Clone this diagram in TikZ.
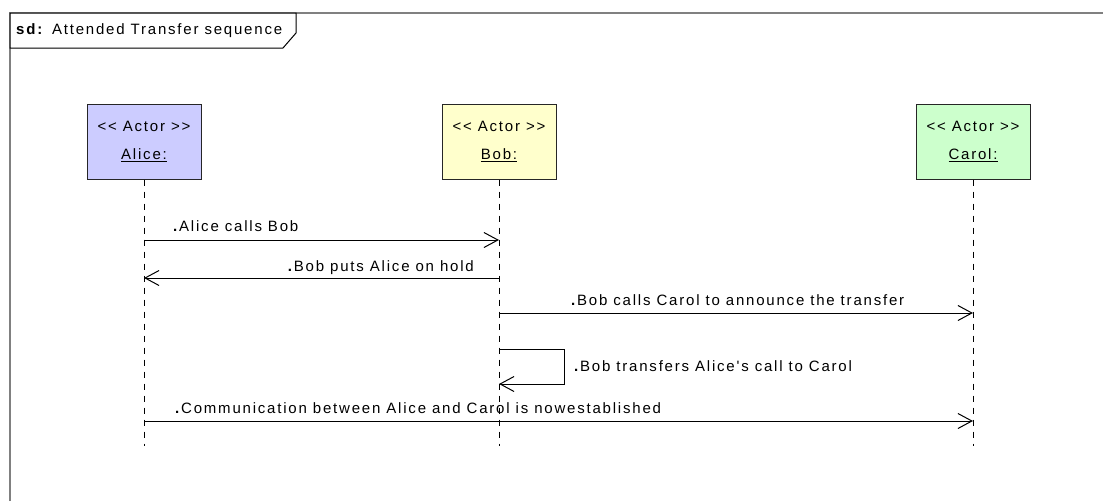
\documentclass[tikz,border=0pt]{standalone}
\usepackage{fontspec}
\setmainfont{Liberation Sans}[LetterSpace=12]
\newfontfamily\diagfont{Liberation Sans}[LetterSpace=12]
\usetikzlibrary{arrows.meta}
\definecolor{alicefill}{RGB}{204,204,255}
\definecolor{bobfill}{RGB}{255,255,204}
\definecolor{carolfill}{RGB}{204,255,204}
\begin{document}
\begin{tikzpicture}[x=1pt,y=-1pt,
  font=\diagfont\fontsize{15}{17}\selectfont,
  actorbox/.style={draw=black!85, line width=1pt, minimum width=114pt, minimum height=75pt, align=center, inner sep=0pt},
  life/.style={dash pattern=on 6pt off 6pt, line width=1pt},
  msg/.style={line width=1pt, -{Straight Barb[length=14pt,width=15pt,line width=1pt]}},
  lbl/.style={inner sep=0pt}]
\useasboundingbox (0,0) rectangle (1103,501);
% frame
\draw[gray, line width=1.5pt] (10,501) -- (10,13) -- (1103,13);
\draw[line width=1pt, fill=white] (10,13) -- (296,13) -- (296,33) -- (283,48) -- (10,48) -- cycle;
\node[lbl, anchor=west] (title) at (16,31) {\textbf{sd:} Attended Transfer sequence};
% actors
\node[actorbox, fill=alicefill] (alice) at (144,141.5) {<< Actor >>\\[11pt]\underline{Alice:}};
\node[actorbox, fill=bobfill] (bob) at (499,141.5) {<< Actor >>\\[11pt]\underline{Bob:}};
\node[actorbox, fill=carolfill] (carol) at (973,141.5) {<< Actor >>\\[11pt]\underline{Carol:}};
% lifelines
\coordinate (aliceEnd) at (144,446);
\coordinate (bobEnd) at (499,446);
\coordinate (carolEnd) at (973,446);
\draw[life] (alice.south) -- (aliceEnd);
\draw[life] (bob.south) -- (bobEnd);
\draw[life] (carol.south) -- (carolEnd);
% message points
\coordinate (m1a) at (144,240); \coordinate (m1b) at (499,240);
\coordinate (m2a) at (499,278); \coordinate (m2b) at (144,278);
\coordinate (m3a) at (499,313); \coordinate (m3b) at (973,313);
\coordinate (m4a) at (499,349); \coordinate (m4b) at (499,384);
\coordinate (m5a) at (144,421); \coordinate (m5b) at (973,421);
% messages
\draw[msg] (m1a) -- (m1b);
\node[lbl, anchor=base west] (l1) at (173,231) {\textbf{.}Alice calls Bob};
\draw[msg] (m2a) -- (m2b);
\node[lbl, anchor=base east] (l2) at (474,271) {\textbf{.}Bob puts Alice on hold};
\draw[msg] (m3a) -- (m3b);
\node[lbl, anchor=base west] (l3) at (571,305) {\textbf{.}Bob calls Carol to announce the transfer};
\draw[msg] (m4a) -- ++(65,0) |- (m4b);
\node[lbl, anchor=base west] (l4) at (574,371) {\textbf{.}Bob transfers Alice's call to Carol};
\draw[msg] (m5a) -- (m5b);
\node[lbl, anchor=base west] (l5) at (175,413) {\textbf{.}Communication between Alice and Carol is nowestablished};
\end{tikzpicture}
\end{document}
